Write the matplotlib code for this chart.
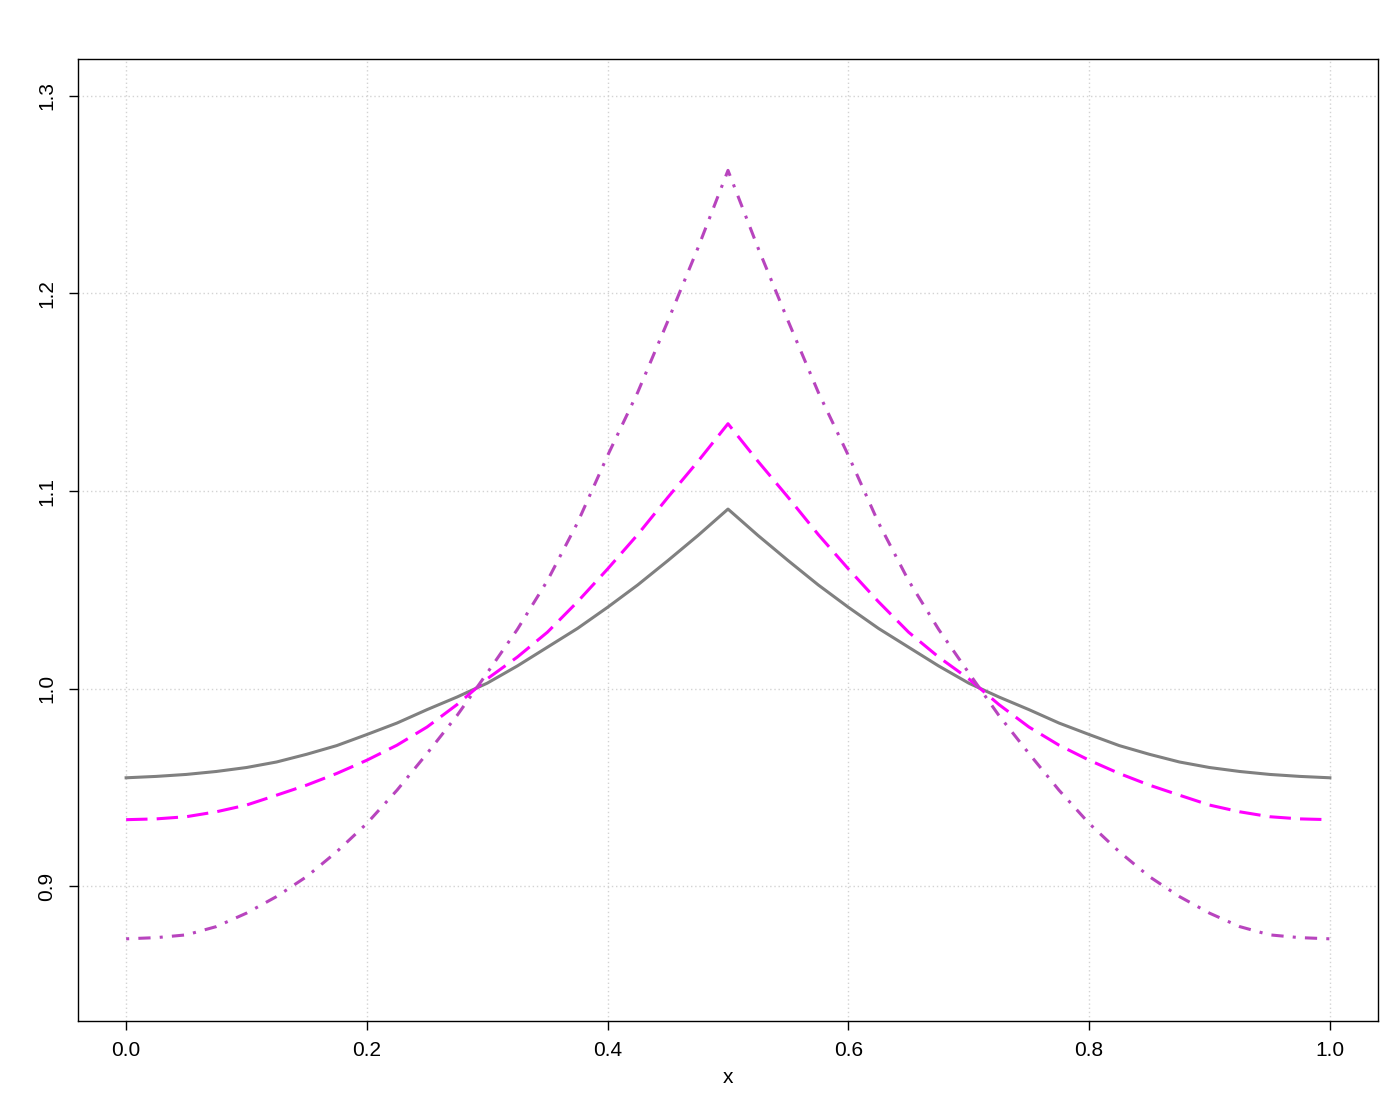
import matplotlib
matplotlib.use("Agg")
import matplotlib.pyplot as plt

# values (symmetric about x = 0.5)
x = [0.000, 0.025, 0.050, 0.075, 0.100, 0.125, 0.150, 0.175, 0.200, 0.225,
     0.250, 0.275, 0.300, 0.325, 0.350, 0.375, 0.400, 0.425, 0.450, 0.475,
     0.500, 0.525, 0.550, 0.575, 0.600, 0.625, 0.650, 0.675, 0.700, 0.725,
     0.750, 0.775, 0.800, 0.825, 0.850, 0.875, 0.900, 0.925, 0.950, 0.975, 1.000]
y_gray = [0.9549, 0.9556, 0.9566, 0.9581, 0.9601, 0.9629, 0.9668, 0.9712, 0.9768, 0.9826,
          0.9894, 0.9958, 1.0028, 1.0115, 1.0210, 1.0305, 1.0412, 1.0525, 1.0648, 1.0775,
          1.0909, 1.0775, 1.0648, 1.0525, 1.0412, 1.0305, 1.0210, 1.0115, 1.0028, 0.9958,
          0.9894, 0.9826, 0.9768, 0.9712, 0.9668, 0.9629, 0.9601, 0.9581, 0.9566, 0.9556, 0.9549]
y_magenta = [0.9337, 0.9341, 0.9352, 0.9377, 0.9411, 0.9461, 0.9512, 0.9571, 0.9638, 0.9714,
             0.9806, 0.9920, 1.0050, 1.0160, 1.0286, 1.0440, 1.0606, 1.0780, 1.0968, 1.1150,
             1.1341, 1.1150, 1.0968, 1.0780, 1.0606, 1.0440, 1.0286, 1.0160, 1.0050, 0.9920,
             0.9806, 0.9714, 0.9638, 0.9571, 0.9512, 0.9461, 0.9411, 0.9377, 0.9352, 0.9341, 0.9337]
y_purple = [0.8734, 0.8740, 0.8754, 0.8796, 0.8864, 0.8948, 0.9049, 0.9175, 0.9318, 0.9486,
            0.9672, 0.9865, 1.0080, 1.0300, 1.0547, 1.0840, 1.1180, 1.1500, 1.1860, 1.2230,
            1.2623, 1.2230, 1.1860, 1.1500, 1.1180, 1.0840, 1.0547, 1.0300, 1.0080, 0.9865,
            0.9672, 0.9486, 0.9318, 0.9175, 0.9049, 0.8948, 0.8864, 0.8796, 0.8754, 0.8740, 0.8734]

xticks = [0.0, 0.2, 0.4, 0.6, 0.8, 1.0]
yticks = [0.9, 1.0, 1.1, 1.2, 1.3]

plt.rcParams['font.family'] = ['Liberation Sans', 'DejaVu Sans']

fig = plt.figure(figsize=(14, 11), dpi=100)
ax = fig.add_axes([0.0557, 0.0718, 0.9286, 0.8746])

lw = 2.2
ax.plot(x, y_gray, color='#808080', lw=lw, solid_joinstyle='round', zorder=3)
ax.plot(x, y_magenta, color='#FF00FF', lw=lw, linestyle=(0, (7, 3)),
        dash_capstyle='butt', zorder=3)
ax.plot(x, y_purple, color='#B844BE', lw=lw, linestyle=(0, (1, 3, 4, 3)),
        dash_capstyle='butt', zorder=3)

ax.set_xlim(-0.04, 1.04)
ax.set_ylim(0.8318, 1.3187)
ax.set_xticks(xticks)
ax.set_xticklabels([f"{v:.1f}" for v in xticks])
ax.set_yticks(yticks)
ax.set_yticklabels([f"{v:.1f}" for v in yticks], rotation=90, va='center')

ax.grid(True, color='#D3D3D3', linestyle=(0, (1, 2)), linewidth=1.0, zorder=0)
ax.tick_params(direction='out', length=6.5, width=1, labelsize=15, pad=8)
ax.tick_params(axis='y', pad=9)
for s in ax.spines.values():
    s.set_linewidth(1)

ax.set_xlabel("x", fontsize=15, labelpad=6)

fig.savefig("out.png", dpi=100)
